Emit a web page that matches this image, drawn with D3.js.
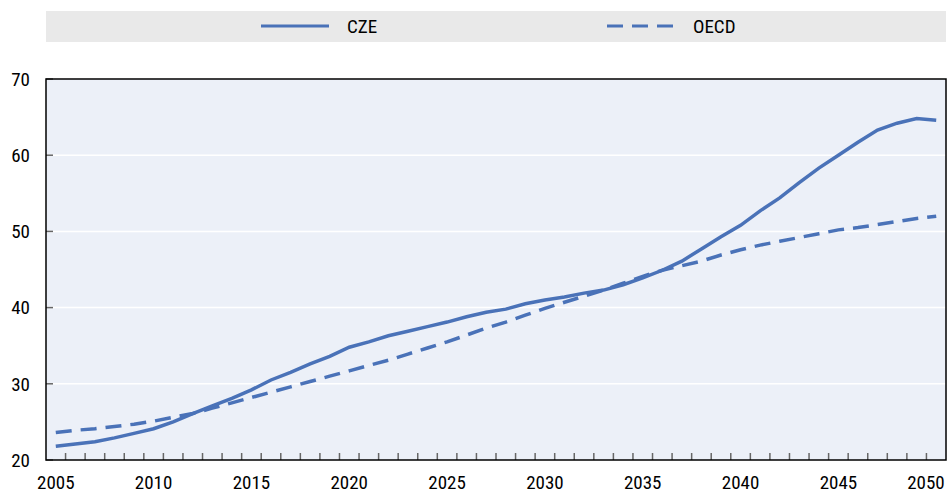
<!doctype html>
<html lang="en">
<head>
    <meta charset="UTF-8">
    <title>CZE vs OECD</title>
    <script src="https://d3js.org/d3.v7.min.js"></script>
    <style>
        body { margin: 0; background: #fff; }
        text { font-family: "Liberation Sans Narrow", "Arial Narrow", "Roboto Condensed", sans-serif; fill: #000; }
    </style>
</head>
<body>
<script>
    var years = d3.range(2005, 2051);
    var tickYears = [2005, 2010, 2015, 2020, 2025, 2030, 2035, 2040, 2045, 2050];
    var yTicks = [20, 30, 40, 50, 60, 70];

    var cze = [21.8, 22.1, 22.4, 22.9, 23.5, 24.1, 25.0, 26.1, 27.1, 28.1,
               29.2, 30.5, 31.5, 32.6, 33.6, 34.8, 35.5, 36.3, 36.9, 37.5,
               38.1, 38.8, 39.4, 39.8, 40.5, 41.0, 41.4, 41.9, 42.3, 43.0,
               43.9, 44.9, 46.1, 47.7, 49.3, 50.8, 52.7, 54.4, 56.4, 58.3,
               60.0, 61.7, 63.3, 64.2, 64.8, 64.6];
    var oecd = [23.6, 23.9, 24.1, 24.4, 24.7, 25.1, 25.6, 26.1, 26.8, 27.5,
                28.2, 28.9, 29.6, 30.3, 31.0, 31.7, 32.4, 33.1, 33.9, 34.7,
                35.5, 36.4, 37.3, 38.1, 39.0, 39.9, 40.7, 41.5, 42.3, 43.2,
                44.1, 44.9, 45.5, 46.1, 46.9, 47.6, 48.2, 48.7, 49.2, 49.7,
                50.2, 50.5, 50.9, 51.3, 51.7, 52.0];

    var width = 948, height = 495;
    var plotL = 46, plotR = 946, plotT = 79, plotB = 460;
    var blue = '#4a72b8';

    var svg = d3.select('body').append('svg')
        .attr('width', width)
        .attr('height', height);

    var x = d3.scaleBand().domain(years).range([plotL, plotR]);
    var y = d3.scaleLinear().domain([20, 70]).range([plotB, plotT]);

    // legend band
    svg.append('rect')
        .attr('x', 46).attr('y', 11)
        .attr('width', 900).attr('height', 31)
        .attr('fill', '#e9e9e9');

    var legend = [
        {name: 'CZE', dash: null, x: 261},
        {name: 'OECD', dash: '16,9', x: 607}
    ];
    legend.forEach(function(d) {
        svg.append('line')
            .attr('x1', d.x).attr('x2', d.x + 68)
            .attr('y1', 26).attr('y2', 26)
            .attr('stroke', blue).attr('stroke-width', 3)
            .attr('stroke-dasharray', d.dash);
        svg.append('text')
            .attr('x', d.x + 86).attr('y', 33)
            .attr('font-size', 19)
            .text(d.name);
    });

    // plot background
    svg.append('rect')
        .attr('x', plotL).attr('y', plotT)
        .attr('width', plotR - plotL).attr('height', plotB - plotT)
        .attr('fill', '#ecf0f8');

    // gridlines
    svg.append('g').selectAll('line')
        .data(yTicks.slice(1, -1))
        .enter().append('line')
        .attr('x1', plotL).attr('x2', plotR)
        .attr('y1', function(d) { return y(d); })
        .attr('y2', function(d) { return y(d); })
        .attr('stroke', '#fff').attr('stroke-width', 1.5);

    // y ticks + labels
    svg.append('g').selectAll('line')
        .data(yTicks)
        .enter().append('line')
        .attr('x1', plotL).attr('x2', plotL + 7)
        .attr('y1', function(d) { return y(d); })
        .attr('y2', function(d) { return y(d); })
        .attr('stroke', '#666').attr('stroke-width', 1.5);

    svg.append('g').selectAll('text')
        .data(yTicks)
        .enter().append('text')
        .attr('x', 30)
        .attr('y', function(d) { return y(d); })
        .attr('dy', '0.36em')
        .attr('text-anchor', 'end')
        .attr('font-size', 19)
        .text(function(d) { return d; });

    // x ticks between categories
    svg.append('g').selectAll('line')
        .data(years.slice(1))
        .enter().append('line')
        .attr('x1', function(d) { return x(d); })
        .attr('x2', function(d) { return x(d); })
        .attr('y1', plotB).attr('y2', plotB - 7)
        .attr('stroke', '#666').attr('stroke-width', 1.5);

    // last label is pushed in so it stays inside the picture
    svg.append('g').selectAll('text')
        .data(tickYears)
        .enter().append('text')
        .attr('x', function(d) { return Math.min(x(d) + x.bandwidth() / 2, 926); })
        .attr('y', 489)
        .attr('text-anchor', 'middle')
        .attr('font-size', 19)
        .text(function(d) { return d; });

    // lines
    var line = d3.line()
        .x(function(d, i) { return x(years[i]) + x.bandwidth() / 2; })
        .y(function(d) { return y(d); });

    svg.append('path')
        .datum(oecd)
        .attr('d', line)
        .attr('fill', 'none')
        .attr('stroke', blue).attr('stroke-width', 3.5)
        .attr('stroke-dasharray', '16,9');

    svg.append('path')
        .datum(cze)
        .attr('d', line)
        .attr('fill', 'none')
        .attr('stroke', blue).attr('stroke-width', 3.5);

    // frame
    svg.append('rect')
        .attr('x', plotL).attr('y', plotT)
        .attr('width', plotR - plotL).attr('height', plotB - plotT)
        .attr('fill', 'none')
        .attr('stroke', '#000').attr('stroke-width', 1.5);
</script>
</body>
</html>
